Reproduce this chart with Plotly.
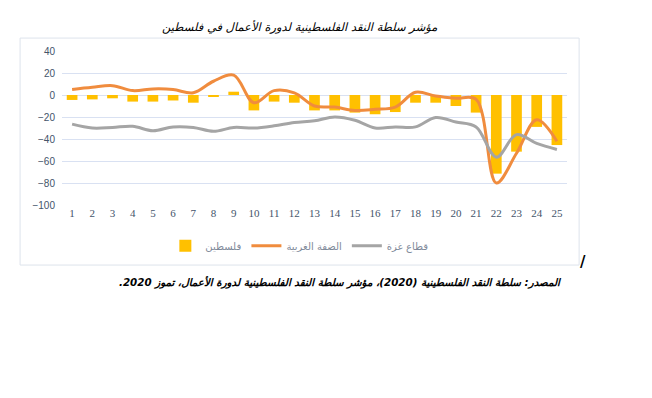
import plotly.graph_objects as go

categories = [str(i) for i in range(1, 26)]
palestine = [-4.5, -4, -3, -6, -6, -5, -7, -1, 3, -14, -6, -7, -14,
             -14, -16, -17.5, -15.5, -7, -7, -10, -16, -71.5, -51.5, -29, -45.5]
west_bank = [5, 7, 8.5, 4, 5.5, 5, 2, 12.5, 18, -7, 4, 2, -10,
             -11, -14, -13, -11, 2.5, -1, -3, -4, -80, -53, -22.5, -42]
gaza = [-26.5, -30, -29.5, -28.5, -32.5, -29, -29.5, -33, -29.5, -30, -28, -25, -23.5,
        -20, -23, -30, -29, -29, -20.5, -24.5, -29, -56.5, -36, -44, -49.5]
y_ticks = [40, 20, 0, -20, -40, -60, -80, -100]

names = ["فلسطين", "الضفة الغربية", "قطاع غزة"]
title_text = "مؤشر سلطة النقد الفلسطينية لدورة الأعمال في فلسطين"
source_text = "\u200fالمصدر: سلطة النقد الفلسطينية (2020)، مؤشر سلطة النقد الفلسطينية لدورة الأعمال، تموز 2020.\u200f"

tick_color = "#44546A"
fig = go.Figure()
fig.add_trace(go.Bar(x=categories, y=palestine, name=names[0],
                     marker=dict(color="#FFC000", line=dict(width=0))))
fig.add_trace(go.Scatter(x=categories, y=west_bank, name=names[1], mode="lines",
                         line=dict(color="#F08C3E", width=3, shape="spline", smoothing=1.0)))
fig.add_trace(go.Scatter(x=categories, y=gaza, name=names[2], mode="lines",
                         line=dict(color="#A5A5A5", width=3, shape="spline", smoothing=1.0)))

# page body has an 8px default margin, so the figure is 8px smaller
fig.update_layout(
    width=644, height=390,
    margin=dict(l=54, r=85, t=43, b=193),
    paper_bgcolor="white", plot_bgcolor="white",
    bargap=0.47,
    showlegend=True,
    legend=dict(orientation="h", x=0.47, xanchor="center", y=-0.17, yanchor="top",
                font=dict(family="DejaVu Sans", size=10, color="#7F8A9A"),
                itemwidth=30, tracegroupgap=0),
    xaxis=dict(type="category", showgrid=False, zeroline=False, showline=False,
               ticks="", tickfont=dict(family="Liberation Serif", size=11, color=tick_color)),
    yaxis=dict(range=[-100, 40], tickvals=y_ticks, showgrid=True, gridcolor="#D9E1F2",
               gridwidth=1, zeroline=True, zerolinecolor="#D9E1F2", zerolinewidth=1,
               showline=False, ticks="", ticklabelstandoff=6,
               tickfont=dict(family="Liberation Sans", size=10, color=tick_color)),
    shapes=[dict(type="rect", xref="paper", yref="paper",
                 x0=-0.083, x1=1.024, y0=-0.39, y1=1.084,
                 line=dict(color="#DDE3EC", width=1), layer="below")],
    annotations=[
        dict(text="<i>" + title_text + "</i>", xref="paper", yref="paper", x=0.471, y=1.095,
             xanchor="center", yanchor="bottom", showarrow=False,
             font=dict(family="DejaVu Sans", size=11.5, color="black")),
        dict(text="<b><i>" + source_text + "</i></b>", xref="paper", yref="paper",
             x=0.994, y=-0.44, xanchor="right", yanchor="top", showarrow=False,
             font=dict(family="DejaVu Sans", size=10.3, color="black")),
        dict(text="<b>/</b>", xref="paper", yref="paper", x=1.032, y=-0.37,
             xanchor="center", yanchor="middle", showarrow=False,
             font=dict(family="DejaVu Sans", size=15, color="black")),
    ],
)

fig.write_html("out.html")
